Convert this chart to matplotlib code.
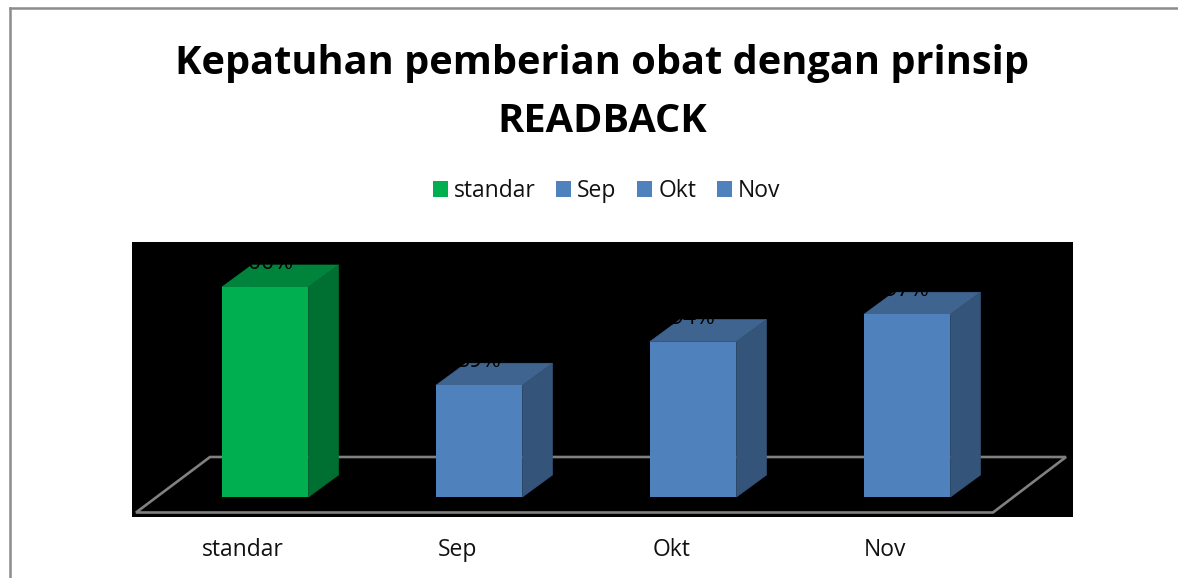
import matplotlib
matplotlib.use("Agg")
import matplotlib.pyplot as plt
from matplotlib.lines import Line2D
from matplotlib.patches import Patch, Polygon
from matplotlib.transforms import ScaledTranslation

categories = ["standar", "Sep", "Okt", "Nov"]
values = [100, 89.2, 94, 97]
value_labels = ["100%", "89%", "94%", "97%"]
title = "Kepatuhan pemberian obat dengan prinsip\nREADBACK"

plt.rcParams["font.family"] = ["Open Sans", "DejaVu Sans"]

W, H = 1178, 578
DPI = 100
AX_L, AX_R, AX_T, AX_B = 132, 1073, 242, 517
X0_PX, X_STEP = 265.2, 214
BAR_W_PX, DX_PX, DY_PX = 86.5, 30, 22
Y_PX = 9.1
BASE_PX = 497
TOP_VAL_PX = 287
FS = 16.5

fronts = ["#00B050", "#4F81BD", "#4F81BD", "#4F81BD"]
tops = ["#00843C", "#3F648F", "#3F648F", "#3F648F"]
sides = ["#006F32", "#345479", "#345479", "#345479"]

fig = plt.figure(figsize=(W / DPI, H / DPI), dpi=DPI, facecolor="white")
ax = fig.add_axes([AX_L / W, 1 - AX_B / H, (AX_R - AX_L) / W, (AX_B - AX_T) / H])
ax.set_facecolor("black")

base_val = 100 - (BASE_PX - TOP_VAL_PX) / Y_PX
ax.set_xlim((AX_L - X0_PX) / X_STEP, (AX_R - X0_PX) / X_STEP)
ax.set_ylim(base_val - (AX_B - BASE_PX) / Y_PX, 100 + (TOP_VAL_PX - AX_T) / Y_PX)

# floor of the 3D chart, axes fractions
fx = lambda p: (p - AX_L) / (AX_R - AX_L)
fy = lambda p: (AX_B - p) / (AX_B - AX_T)
floor = Polygon([(fx(136), fy(512.5)), (fx(993), fy(512.5)), (fx(1066), fy(457)), (fx(210), fy(457))],
                closed=True, fill=False, edgecolor="#808080", linewidth=1.9,
                transform=ax.transAxes, zorder=1)
ax.add_patch(floor)

bw = BAR_W_PX / X_STEP
dx = DX_PX / X_STEP
dy = DY_PX / Y_PX
for i, v in enumerate(values):
    left, right = i - bw / 2, i + bw / 2
    ax.add_patch(Polygon([(left, v), (right, v), (right + dx, v + dy), (left + dx, v + dy)],
                         closed=True, facecolor=tops[i], edgecolor=tops[i], linewidth=0.5, zorder=3))
    ax.add_patch(Polygon([(right, base_val), (right + dx, base_val + dy), (right + dx, v + dy), (right, v)],
                         closed=True, facecolor=sides[i], edgecolor=sides[i], linewidth=0.5, zorder=3))
    ax.bar(i, v - base_val, bottom=base_val, width=bw, color=fronts[i], linewidth=0, zorder=3.5)
    ax.annotate(value_labels[i], xy=(i, v + dy), xytext=(0, -4 * 72 / DPI), textcoords="offset points",
                ha="center", va="baseline", fontsize=FS, color="black", zorder=4)

ax.set_yticks([])
ax.set_xticks(range(len(categories)), categories, fontsize=FS, color="#111111")
ax.tick_params(axis="x", length=0, pad=15)
shift = ScaledTranslation(-22 / DPI, 0, fig.dpi_scale_trans)
for lab in ax.get_xticklabels():
    lab.set_transform(lab.get_transform() + shift)
for s in ax.spines.values():
    s.set_visible(False)

handles = [Patch(facecolor=c, edgecolor="none") for c in fronts]
fig.legend(handles, categories, ncol=4, loc="center", bbox_to_anchor=(606.5 / W, 1 - 191 / H),
           frameon=False, fontsize=FS, handlelength=0.65, handleheight=0.65,
           handletextpad=0.27, columnspacing=0.9, labelcolor="#111111")

fig.text(602 / W, 1 - 92.5 / H, title, ha="center", va="center", fontsize=28.6, fontweight="bold",
         color="black", linespacing=1.64)

grey = "#8C8C8C"
fig.add_artist(Line2D([9.5 / W, 9.5 / W], [0, 1 - 7.5 / H], color=grey, linewidth=1.8))
fig.add_artist(Line2D([9.5 / W, 1], [1 - 7.5 / H, 1 - 7.5 / H], color=grey, linewidth=1.8))

fig.savefig("out.png", dpi=DPI, facecolor="white")
